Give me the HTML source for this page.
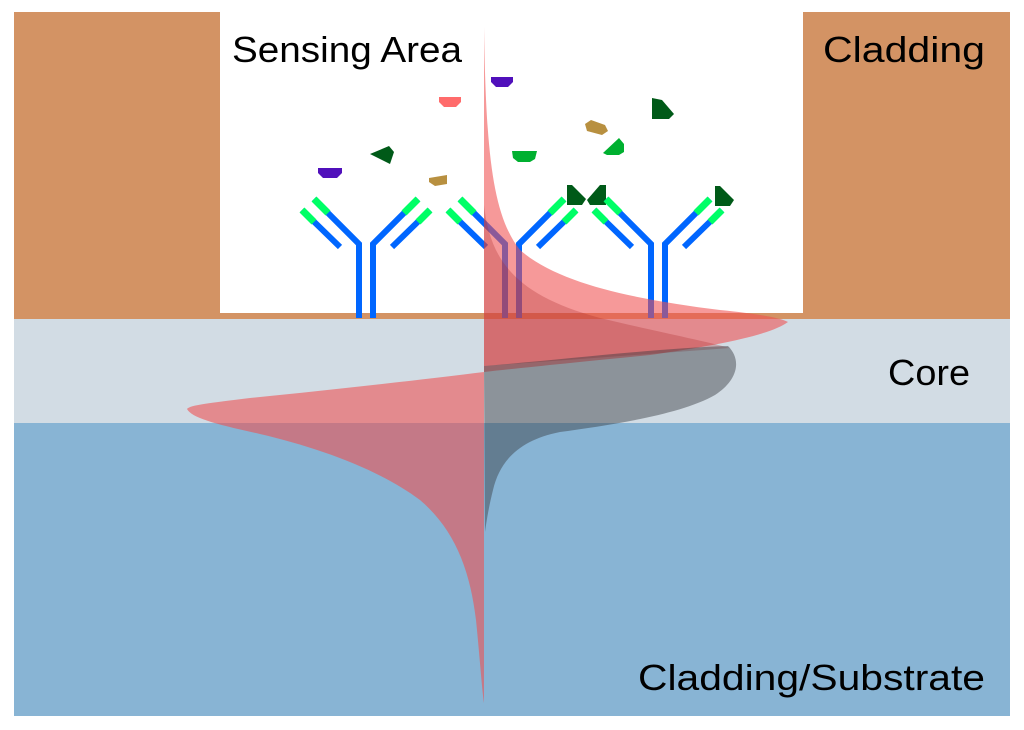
<!DOCTYPE html>
<html><head><meta charset="utf-8"><style>html,body{margin:0;padding:0;background:#fff}svg{display:block}</style></head><body>
<svg width="1024" height="730" viewBox="0 0 1024 730" xmlns="http://www.w3.org/2000/svg">
<rect x="0" y="0" width="1024" height="730" fill="#fff"/>
<rect x="14" y="12" width="206" height="307" fill="#d39364"/>
<rect x="803" y="12" width="207" height="307" fill="#d39364"/>
<rect x="220" y="313" width="583" height="6" fill="#d39364"/>
<rect x="14" y="319" width="996" height="104" fill="#d2dce4"/>
<rect x="14" y="423" width="996" height="293" fill="#88b4d4"/>

<g font-family="Liberation Sans, sans-serif" fill="#000">
<text x="232" y="62" font-size="36" textLength="230" lengthAdjust="spacingAndGlyphs">Sensing Area</text>
<text x="823" y="62" font-size="36" textLength="162" lengthAdjust="spacingAndGlyphs">Cladding</text>
<text x="888" y="385" font-size="36" textLength="82" lengthAdjust="spacingAndGlyphs">Core</text>
<text x="638" y="690" font-size="36" textLength="347" lengthAdjust="spacingAndGlyphs">Cladding/Substrate</text>
</g>

<!-- antigens -->
<g>
<path d="M439,97 h22 v5 l-5,5 h-12 l-5,-5z" fill="#ff6b6b"/>
<path d="M491,77 h22 v5 l-5,5 h-12 l-5,-5z" fill="#5010bb"/>
<path d="M318,168 h24 v5 l-5,5 h-14 l-5,-5z" fill="#5010bb"/>
<path d="M370,154 l19,-8 l5,6 l-4,12z" fill="#005a18"/>
<path d="M429,178 l18,-3 v9 l-12,2 l-6,-4z" fill="#b89040"/>
<path d="M512,151 h25 l-2,8 l-5,3 h-12 l-5,-4z" fill="#00b030"/>
<path d="M585,124 l6,-4 l14,5 l3,6 l-6,4 l-15,-4z" fill="#b89040"/>
<path d="M603,153 l16,-15 l5,6 v8 l-5,3 h-12z" fill="#00b030"/>
<path d="M652,98 l10,2 l12,14 l-5,5 h-17z" fill="#005a18"/>
<path d="M567,185 l5,0 l14,14 l-4,6 h-15z" fill="#005a18"/>
<path d="M600,185 l6,0 v20 h-16 l-3,-5z" fill="#005a18"/>
<path d="M715,186 l5,0 l14,14 l-4,6 h-15z" fill="#005a18"/>
</g>

<!-- antibodies -->
<defs>
<g id="ab">
<polyline points="-52,199 -7,244 -7,318" fill="none" stroke="#0066ff" stroke-width="6"/>
<polyline points="52,199 7,244 7,318" fill="none" stroke="#0066ff" stroke-width="6"/>
<line x1="-64" y1="210" x2="-26" y2="247" stroke="#0066ff" stroke-width="6"/>
<line x1="64" y1="210" x2="26" y2="247" stroke="#0066ff" stroke-width="6"/>
<line x1="-52" y1="199" x2="-38" y2="213" stroke="#00ff66" stroke-width="7"/>
<line x1="52" y1="199" x2="38" y2="213" stroke="#00ff66" stroke-width="7"/>
<line x1="-64" y1="210" x2="-52" y2="222" stroke="#00ff66" stroke-width="7"/>
<line x1="64" y1="210" x2="52" y2="222" stroke="#00ff66" stroke-width="7"/>
</g>
</defs>
<use href="#ab" x="366"/>
<use href="#ab" x="512"/>
<use href="#ab" x="658"/>

<!-- red field -->
<path d="M484,27 C486,150 492,215 520,250 C560,285 640,300 720,310 C760,314 780,318 788,322 C770,335 720,345 650,355 C580,362 520,368 484,372 C420,380 330,390 250,398 C210,403 190,405 187,409 C192,418 215,424 260,434 C320,448 380,470 420,500 C455,530 470,570 476,620 C480,660 482,690 484,703 Z" fill="rgba(240,80,80,0.58)"/>
<path d="M484,205 C490,260 515,295 600,318 C650,330 700,340 730,348 L484,366 Z" fill="rgba(170,40,40,0.28)"/>
<!-- gray field -->
<path d="M484,366 C560,360 660,348 728,346 C742,360 738,380 715,395 C680,415 610,425 560,432 C520,440 500,460 493,490 C488,510 486,525 485,532 Z" fill="rgba(55,58,65,0.45)"/>
</svg>
</body></html>
